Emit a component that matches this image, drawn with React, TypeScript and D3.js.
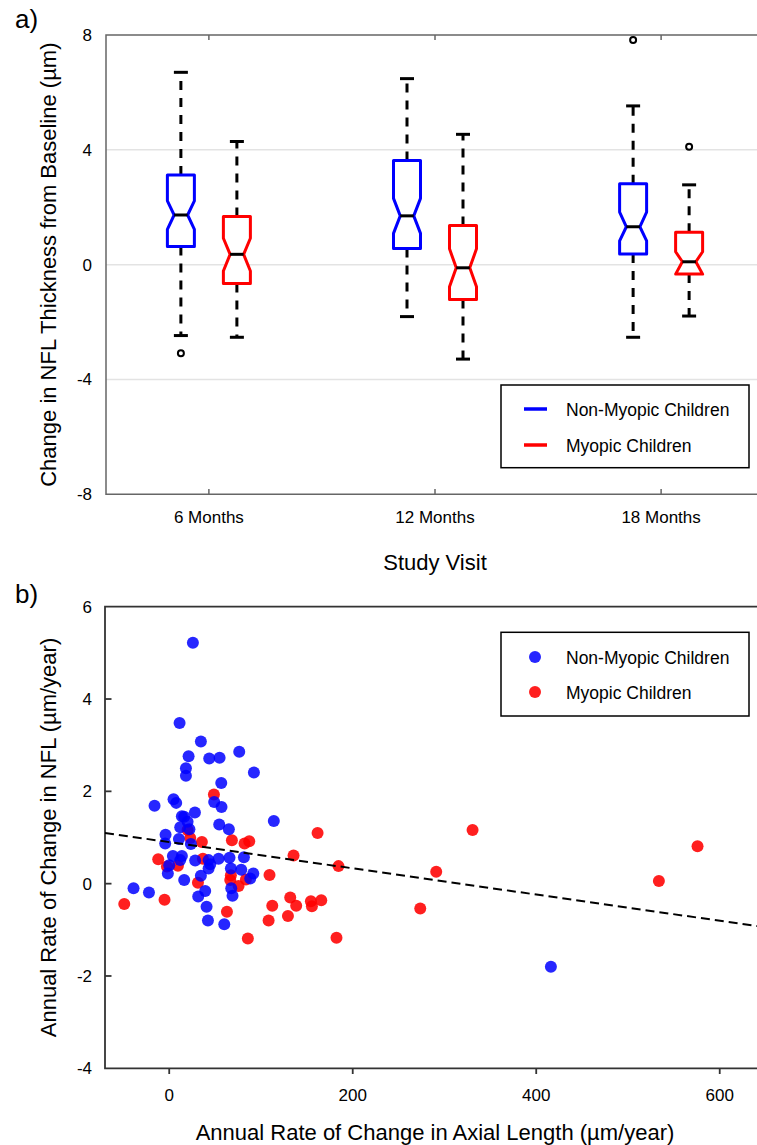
import * as d3 from "d3";

// ---- panel a) data: notched box plots ----
const visits = ["6 Months", "12 Months", "18 Months"];
const yTicksA = [-8, -4, 0, 4, 8];

// [low whisker, q1, notch low, median, notch high, q3, high whisker]
const nonMyopicBoxes = [
  [-2.47, 0.63, 1.23, 1.73, 2.22, 3.12, 6.7],
  [-1.81, 0.56, 1.09, 1.7, 2.31, 3.63, 6.48],
  [-2.53, 0.37, 0.83, 1.32, 1.83, 2.82, 5.53],
];
const myopicBoxes = [
  [-2.53, -0.66, -0.22, 0.36, 0.92, 1.68, 4.29],
  [-3.29, -1.21, -0.77, -0.11, 0.55, 1.36, 4.54],
  [-1.79, -0.33, -0.33, 0.1, 0.45, 1.13, 2.78],
];
const nonMyopicOutliers = [[-3.09], [], [7.83]];
const myopicOutliers = [[], [], [4.11]];

// ---- panel b) data: scatter ----
const xTicksB = [0, 200, 400, 600];
const yTicksB = [-4, -2, 0, 2, 4, 6];

const nonMyopicPoints = [
  [25.8, 5.22], [11.3, 3.48], [34.5, 3.08], [21.1, 2.76], [43.6, 2.71], [54.9, 2.73],
  [76.3, 2.86], [18.2, 2.5], [18.2, 2.34], [92.3, 2.41], [56.7, 2.18], [-16, 1.69],
  [4.7, 1.83], [7.6, 1.75], [49, 1.77], [57, 1.66], [28, 1.54], [13.8, 1.46],
  [16.3, 1.45], [20, 1.34], [12, 1.22], [22, 1.18], [54.5, 1.28], [65, 1.18],
  [114, 1.36], [-4, 1.06], [10.6, 0.97], [-4.4, 0.87], [23.6, 0.86], [4, 0.6],
  [13.8, 0.6], [12, 0.51], [0, 0.4], [-1.5, 0.22], [16.3, 0.08], [28.3, 0.5],
  [42.9, 0.51], [44.7, 0.42], [42.9, 0.33], [53.8, 0.54], [65.7, 0.56], [81.4, 0.57],
  [67.2, 0.33], [78.5, 0.3], [91.6, 0.22], [88.3, 0.11], [34.5, 0.17], [39.2, -0.16],
  [31.6, -0.28], [67.6, -0.1], [69, -0.26], [40.7, -0.5], [42.2, -0.8], [60, -0.88],
  [-38.9, -0.1], [-22.1, -0.19], [416, -1.8],
];
const myopicPoints = [
  [48.7, 1.93], [35.6, 0.9], [68.3, 0.94], [82.1, 0.87], [87.2, 0.92], [161.7, 1.1],
  [135.5, 0.61], [184.5, 0.38], [-12, 0.53], [-2.5, 0.37], [9.5, 0.39], [36.7, 0.54],
  [22.9, 0.99], [20, 1.16], [109.3, 0.19], [31.3, 0.02], [66.5, 0.08], [67.2, 0.18],
  [75.6, -0.05], [83.6, 0.09], [-49, -0.44], [-5.1, -0.35], [62.9, -0.61], [112.3, -0.48],
  [108.3, -0.8], [129.4, -0.7], [131.9, -0.3], [138.4, -0.48], [154.4, -0.38], [155.5, -0.49],
  [165.7, -0.36], [85.7, -1.19], [182.3, -1.17], [330.6, 1.16], [291, 0.26], [575.8, 0.81],
  [533.7, 0.06], [273.6, -0.54],
];
const fitIntercept = 0.9;
const fitSlope = -0.00284;

const FONT = "Liberation Sans, Arial, Helvetica, sans-serif";
const BLUE = "#0000ff";
const RED = "#ff0000";

function BoxGroup({ cx, s, outliers, color, y }) {
  const [lo, q1, nLo, med, nHi, q3, hi] = s;
  const hw = 13.5;
  const inset = hw / 2;
  const pts = [
    [cx - hw, y(q3)], [cx + hw, y(q3)], [cx + hw, y(nHi)], [cx + hw - inset, y(med)],
    [cx + hw, y(nLo)], [cx + hw, y(q1)], [cx - hw, y(q1)], [cx - hw, y(nLo)],
    [cx - hw + inset, y(med)], [cx - hw, y(nHi)],
  ];
  const path = d3.line()(pts) + "Z";
  return (
    <g>
      <line x1={cx} x2={cx} y1={y(q3)} y2={y(hi)} stroke="#000" strokeWidth={3} strokeDasharray="9,8" />
      <line x1={cx} x2={cx} y1={y(q1)} y2={y(lo)} stroke="#000" strokeWidth={3} strokeDasharray="9,8" />
      <line x1={cx - 7} x2={cx + 7} y1={y(hi)} y2={y(hi)} stroke="#000" strokeWidth={3} />
      <line x1={cx - 7} x2={cx + 7} y1={y(lo)} y2={y(lo)} stroke="#000" strokeWidth={3} />
      <path d={path} fill="#fff" stroke={color} strokeWidth={3} strokeLinejoin="round" />
      <line x1={cx - hw + inset} x2={cx + hw - inset} y1={y(med)} y2={y(med)} stroke="#000" strokeWidth={3} />
      {outliers.map((o, i) => (
        <circle key={i} cx={cx} cy={y(o)} r={3} fill="none" stroke="#000" strokeWidth={2} />
      ))}
    </g>
  );
}

export default function App() {
  // panel a scales
  const xA = d3.scalePoint().domain(visits).range([106, 764]).padding(0.455);
  const yA = d3.scaleLinear().domain([-8, 8]).range([494.3, 35]);
  const offset = 28;

  // panel b scales
  const xB = d3.scaleLinear().domain([-70, 650]).range([105, 765.6]);
  const yB = d3.scaleLinear().domain([-4, 6]).range([1068.3, 606.7]);
  const fit = d3
    .line()
    .x((d) => xB(d))
    .y((d) => yB(fitIntercept + fitSlope * d));

  return (
    <svg width={757} height={1145} style={{ position: "absolute", left: 0, top: 0 }} fontFamily={FONT}>
      <rect width={757} height={1145} fill="#fff" />

      {/* ---------- panel a ---------- */}
      <text x={15} y={28} fontSize={26}>a)</text>
      {yTicksA.filter((t) => t > -8 && t < 8).map((t) => (
        <line key={t} x1={106} x2={764} y1={yA(t)} y2={yA(t)} stroke="#e3e3e3" strokeWidth={1.5} />
      ))}
      <path d={`M764,35H106V494.3H764`} fill="none" stroke="#666" strokeWidth={1.5} />
      {visits.map((v) => (
        <g key={v}>
          <line x1={xA(v)} x2={xA(v)} y1={35} y2={40} stroke="#666" strokeWidth={1.5} />
          <line x1={xA(v)} x2={xA(v)} y1={494.3} y2={489} stroke="#666" strokeWidth={1.5} />
          <text x={xA(v)} y={523} fontSize={17} textAnchor="middle">{v}</text>
        </g>
      ))}
      {yTicksA.map((t) => (
        <text key={t} x={92} y={yA(t) + 6} fontSize={17} textAnchor="end">{t}</text>
      ))}
      {visits.map((v, i) => (
        <g key={v}>
          <BoxGroup cx={xA(v) - offset} s={nonMyopicBoxes[i]} outliers={nonMyopicOutliers[i]} color={BLUE} y={yA} />
          <BoxGroup cx={xA(v) + offset} s={myopicBoxes[i]} outliers={myopicOutliers[i]} color={RED} y={yA} />
        </g>
      ))}
      <rect x={501} y={385} width={248} height={82.7} fill="#fff" stroke="#000" strokeWidth={1.5} />
      <line x1={524} x2={547} y1={409} y2={409} stroke={BLUE} strokeWidth={3.5} />
      <line x1={524} x2={547} y1={445} y2={445} stroke={RED} strokeWidth={3.5} />
      <text x={566} y={415.5} fontSize={17.5}>Non-Myopic Children</text>
      <text x={566} y={451.5} fontSize={17.5}>Myopic Children</text>
      <text x={435} y={570} fontSize={22} textAnchor="middle">Study Visit</text>
      <text transform={`translate(56,${(35 + 494.3) / 2}) rotate(-90)`} fontSize={22} textAnchor="middle">
        Change in NFL Thickness from Baseline (µm)
      </text>

      {/* ---------- panel b ---------- */}
      <text x={15} y={603} fontSize={26}>b)</text>
      <path d={`M765.6,606.7H105V1068.3H765.6`} fill="none" stroke="#333" strokeWidth={1.8} />
      {yTicksB.map((t) => (
        <g key={t}>
          {t > -4 && t < 6 && <line x1={105} x2={111.5} y1={yB(t)} y2={yB(t)} stroke="#333" strokeWidth={1.8} />}
          <text x={92} y={yB(t) + 6} fontSize={17} textAnchor="end">{t}</text>
        </g>
      ))}
      {xTicksB.map((t) => (
        <g key={t}>
          <line x1={xB(t)} x2={xB(t)} y1={1068.3} y2={1074} stroke="#333" strokeWidth={1.8} />
          <text x={xB(t)} y={1100.7} fontSize={17} textAnchor="middle">{t}</text>
        </g>
      ))}
      {myopicPoints.map((p, i) => (
        <circle key={"m" + i} cx={xB(p[0])} cy={yB(p[1])} r={6} fill={RED} fillOpacity={0.88} />
      ))}
      {nonMyopicPoints.map((p, i) => (
        <circle key={"n" + i} cx={xB(p[0])} cy={yB(p[1])} r={6} fill={BLUE} fillOpacity={0.85} />
      ))}
      <path d={fit(xB.domain())} fill="none" stroke="#000" strokeWidth={2} strokeDasharray="9,5" />
      <rect x={501} y={632.3} width={248} height={83.7} fill="#fff" stroke="#000" strokeWidth={1.5} />
      <circle cx={535} cy={657} r={6} fill={BLUE} fillOpacity={0.85} />
      <circle cx={535} cy={692} r={6} fill={RED} fillOpacity={0.88} />
      <text x={566} y={663.5} fontSize={17.5}>Non-Myopic Children</text>
      <text x={566} y={698.5} fontSize={17.5}>Myopic Children</text>
      <text x={435} y={1140} fontSize={22} textAnchor="middle">
        Annual Rate of Change in Axial Length (µm/year)
      </text>
      <text transform={`translate(56,${(606.7 + 1068.3) / 2}) rotate(-90)`} fontSize={22} textAnchor="middle">
        Annual Rate of Change in NFL (µm/year)
      </text>
    </svg>
  );
}
